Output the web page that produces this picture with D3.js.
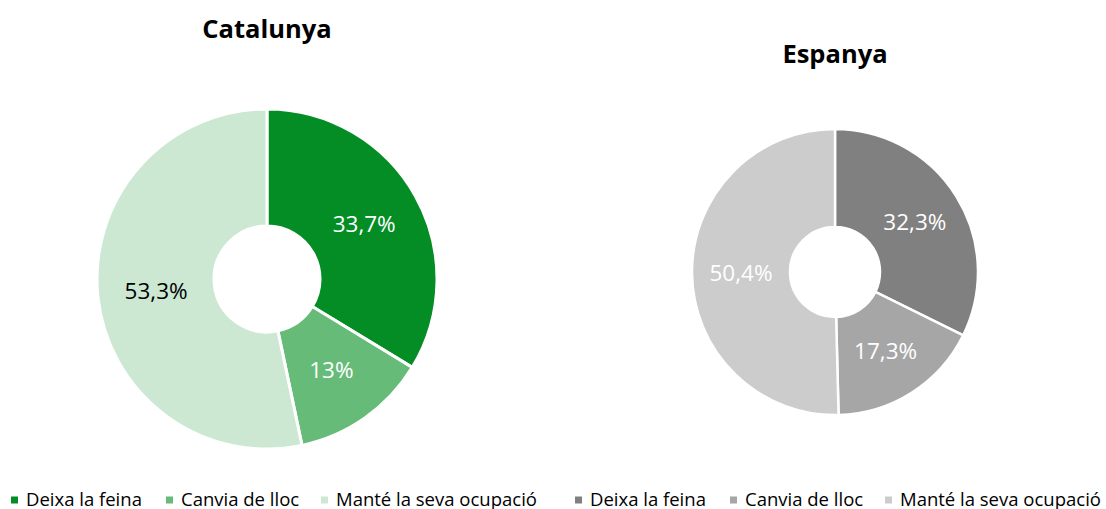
<!DOCTYPE html>
<html>
<head>
<meta charset="utf-8">
<script src="https://cdn.jsdelivr.net/npm/d3@7"></script>
<style>
  body { margin: 0; background: #fff; }
  svg { display: block; font-family: "Open Sans", sans-serif; }
</style>
</head>
<body>
<svg id="chart" width="1106" height="509"></svg>
<script>
// data
var categories = ['Deixa la feina', 'Canvia de lloc', 'Manté la seva ocupació'];
var catValues = [33.7, 13, 53.3];
var espValues = [32.3, 17.3, 50.4];
var catLabels = ['33,7%', '13%', '53,3%'];
var espLabels = ['32,3%', '17,3%', '50,4%'];
var catColors = ['#038d24', '#66bb78', '#cce8d3'];
var espColors = ['#808080', '#a6a6a6', '#cccccc'];
var catLabelColors = ['#ffffff', '#ffffff', '#000000'];
var espLabelColors = ['#ffffff', '#ffffff', '#ffffff'];

var svg = d3.select('#chart');

var charts = [
    { title: 'Catalunya', values: catValues, labels: catLabels, colors: catColors, labelColors: catLabelColors,
      cx: 267, cy: 279, outer: 170, inner: 53, titleY: 38, stroke: 3, legendX: 11 },
    { title: 'Espanya', values: espValues, labels: espLabels, colors: espColors, labelColors: espLabelColors,
      cx: 835, cy: 272, outer: 143, inner: 45, titleY: 63, stroke: 2.5, legendX: 575 }
];

var pie = d3.pie().sort(null).value(function (d) { return d; });

charts.forEach(function (c) {
    var arc = d3.arc().innerRadius(c.inner).outerRadius(c.outer);
    var g = svg.append('g').attr('transform', 'translate(' + c.cx + ',' + c.cy + ')');
    var arcs = pie(c.values);

    g.selectAll('path')
        .data(arcs)
        .enter().append('path')
        .attr('d', arc)
        .attr('fill', function (d, i) { return c.colors[i]; })
        .attr('stroke', '#fff')
        .attr('stroke-width', c.stroke);

    g.selectAll('text')
        .data(arcs)
        .enter().append('text')
        .attr('transform', function (d) { return 'translate(' + arc.centroid(d) + ')'; })
        .attr('text-anchor', 'middle')
        .attr('dy', '0.36em')
        .attr('font-size', 22.5)
        .attr('fill', function (d, i) { return c.labelColors[i]; })
        .text(function (d, i) { return c.labels[i]; });

    //title
    svg.append('text')
        .attr('x', c.cx)
        .attr('y', c.titleY)
        .attr('text-anchor', 'middle')
        .attr('font-size', 25.5)
        .attr('font-weight', 'bold')
        .attr('fill', '#000')
        .text(c.title);

    //legend: equal cells, like the spreadsheet legend
    var lx = d3.scaleBand().domain(categories).range([c.legendX, c.legendX + 465]);
    var item = svg.append('g').selectAll('g')
        .data(categories)
        .enter().append('g')
        .attr('transform', function (d) { return 'translate(' + lx(d) + ',500)'; });
    item.append('rect')
        .attr('x', 0)
        .attr('y', -3.5)
        .attr('width', 7)
        .attr('height', 7)
        .attr('fill', function (d, i) { return c.colors[i]; });
    item.append('text')
        .attr('x', 15)
        .attr('dy', '0.35em')
        .attr('font-size', 18.5)
        .attr('fill', '#000')
        .text(function (d) { return d; });
});
</script>
</body>
</html>
